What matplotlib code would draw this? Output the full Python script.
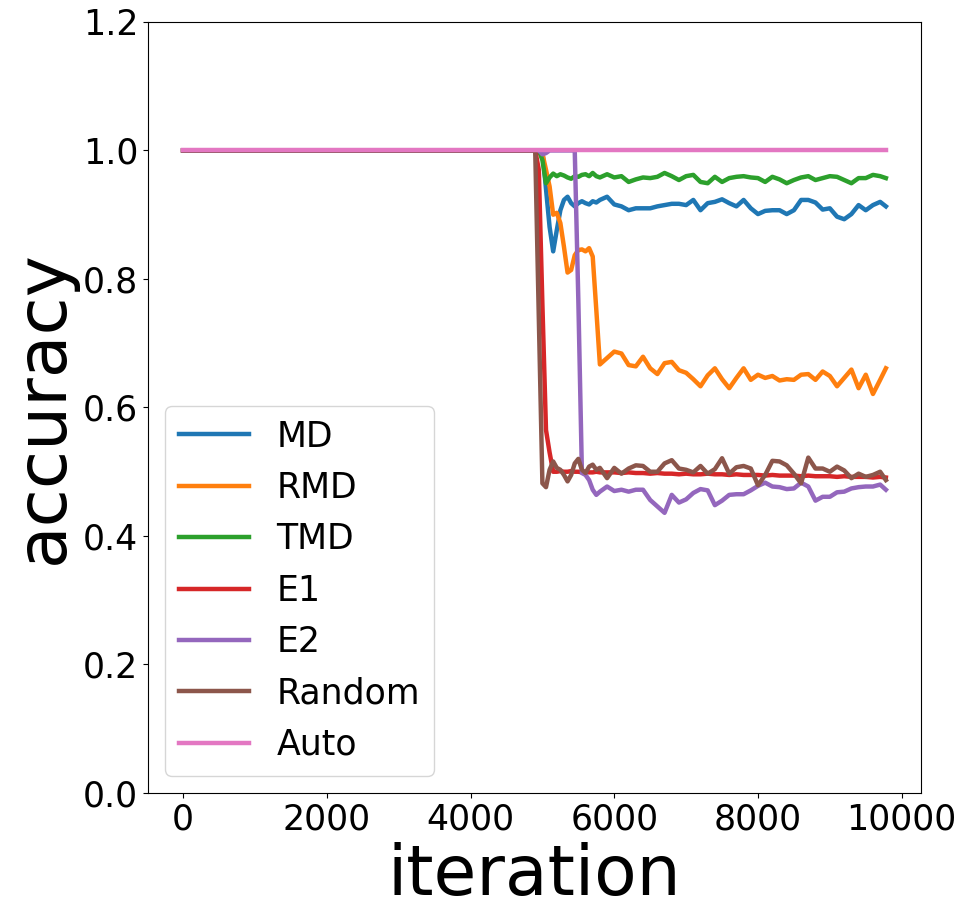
import matplotlib
matplotlib.use("Agg")
import matplotlib.pyplot as plt

# iteration grid (finer around the drops)
iterations = [0] + list(range(4800, 5801, 50)) + list(range(5900, 9701, 100)) + [9780]

md = [1.0, 1.0, 1.0, 1.0, 1.0, 1.0, 0.94, 0.881, 0.843, 0.876, 0.907, 0.923, 0.928, 0.918,
      0.913, 0.918, 0.921, 0.918, 0.916, 0.921, 0.919, 0.923,
      0.928, 0.916, 0.913, 0.907, 0.910, 0.910, 0.910, 0.913, 0.915, 0.917,
      0.917, 0.915, 0.923, 0.907, 0.918, 0.920, 0.924, 0.918, 0.913, 0.923,
      0.910, 0.901, 0.906, 0.907, 0.907, 0.901, 0.907, 0.923, 0.923, 0.919,
      0.908, 0.910, 0.897, 0.893, 0.901, 0.915, 0.907, 0.915, 0.920, 0.913]

rmd = [1.0, 1.0, 1.0, 1.0, 1.0, 0.995, 0.970, 0.944, 0.900, 0.903, 0.887, 0.850, 0.810, 0.814,
       0.837, 0.845, 0.846, 0.843, 0.848, 0.835, 0.752, 0.667,
       0.677, 0.687, 0.684, 0.666, 0.664, 0.679, 0.661, 0.652, 0.669, 0.671,
       0.658, 0.654, 0.644, 0.633, 0.650, 0.661, 0.644, 0.630, 0.646, 0.661,
       0.643, 0.651, 0.646, 0.649, 0.642, 0.644, 0.643, 0.651, 0.652, 0.643,
       0.656, 0.649, 0.633, 0.646, 0.659, 0.630, 0.651, 0.621, 0.643, 0.661]

tmd = [1.0, 1.0, 1.0, 1.0, 1.0, 0.985, 0.949, 0.958, 0.964, 0.960, 0.963, 0.961, 0.958, 0.956,
       0.960, 0.959, 0.962, 0.963, 0.960, 0.965, 0.960, 0.958,
       0.963, 0.958, 0.960, 0.951, 0.955, 0.958, 0.957, 0.959, 0.965, 0.960,
       0.954, 0.960, 0.962, 0.951, 0.949, 0.959, 0.951, 0.957, 0.959, 0.960,
       0.958, 0.957, 0.951, 0.959, 0.955, 0.949, 0.954, 0.958, 0.960, 0.954,
       0.957, 0.960, 0.959, 0.954, 0.949, 0.957, 0.957, 0.962, 0.960, 0.957]

e1 = [1.0, 1.0, 1.0, 1.0, 0.97, 0.76, 0.565, 0.53, 0.500, 0.500, 0.501, 0.500, 0.500, 0.501,
      0.500, 0.500, 0.499, 0.500, 0.499, 0.499, 0.500, 0.499,
      0.499, 0.499, 0.498, 0.499, 0.498, 0.498, 0.497, 0.498, 0.497, 0.497,
      0.496, 0.497, 0.496, 0.496, 0.497, 0.496, 0.496, 0.495, 0.496, 0.495,
      0.495, 0.495, 0.494, 0.495, 0.494, 0.494, 0.494, 0.493, 0.494, 0.493,
      0.493, 0.493, 0.492, 0.493, 0.492, 0.492, 0.492, 0.491, 0.492, 0.491]

e2 = [1.0, 1.0, 1.0, 1.0, 1.0, 0.994, 0.996, 1.0, 1.0, 1.0, 1.0, 1.0, 1.0, 1.0,
      1.0, 0.767, 0.498, 0.495, 0.487, 0.472, 0.464, 0.469,
      0.477, 0.470, 0.472, 0.469, 0.472, 0.472, 0.456, 0.446, 0.436, 0.464,
      0.452, 0.457, 0.467, 0.473, 0.471, 0.448, 0.455, 0.464, 0.465, 0.465,
      0.471, 0.478, 0.483, 0.477, 0.476, 0.473, 0.474, 0.483, 0.477, 0.455,
      0.461, 0.461, 0.468, 0.469, 0.474, 0.476, 0.477, 0.477, 0.480, 0.472]

rand = [1.0, 1.0, 1.0, 1.0, 0.74, 0.482, 0.476, 0.503, 0.516, 0.506, 0.503, 0.495, 0.485, 0.495,
        0.513, 0.520, 0.503, 0.498, 0.508, 0.511, 0.503, 0.506,
        0.490, 0.506, 0.497, 0.505, 0.510, 0.509, 0.500, 0.500, 0.513, 0.518,
        0.505, 0.503, 0.499, 0.509, 0.497, 0.504, 0.521, 0.497, 0.507, 0.509,
        0.505, 0.479, 0.495, 0.517, 0.516, 0.510, 0.497, 0.482, 0.522, 0.505,
        0.505, 0.500, 0.508, 0.502, 0.490, 0.497, 0.492, 0.495, 0.500, 0.487]

auto = [1.0] * len(iterations)

series = [("MD", md), ("RMD", rmd), ("TMD", tmd), ("E1", e1),
          ("E2", e2), ("Random", rand), ("Auto", auto)]

fig = plt.figure(figsize=(9.69, 9.19), dpi=100)
ax = fig.add_axes([0.1527, 0.1371, 0.7978, 0.839])

for name, vals in series:
    ax.plot(iterations, vals, linewidth=3.2, label=name)

ax.set_ylim(0, 1.2)
ax.set_xticks([0, 2000, 4000, 6000, 8000, 10000])
ax.tick_params(labelsize=25)
ax.set_xlabel("iteration", fontsize=50)
ax.set_ylabel("accuracy", fontsize=50)
ax.legend(loc="lower left", fontsize=25)

fig.savefig("out.png", dpi=100)
